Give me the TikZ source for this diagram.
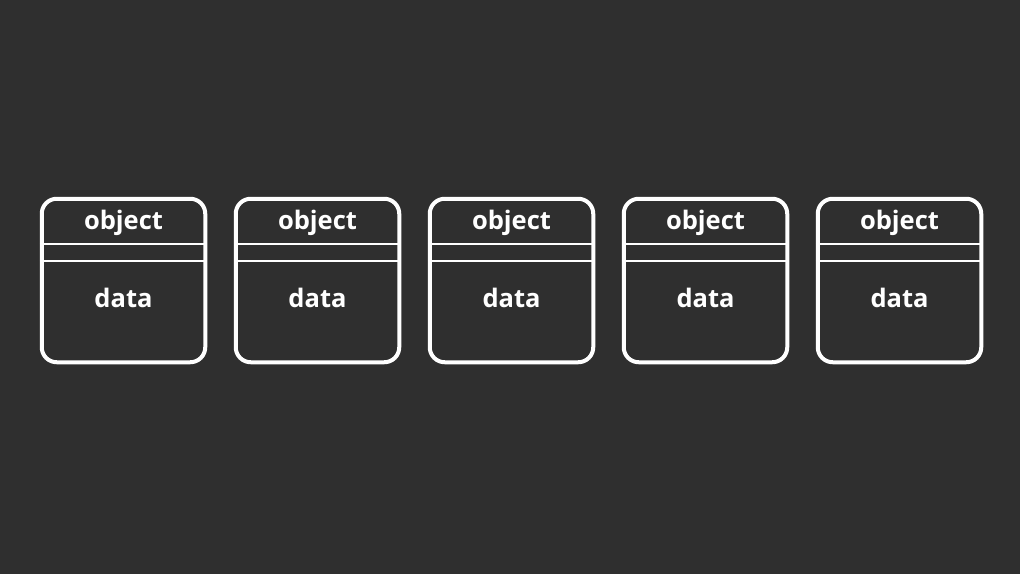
\documentclass[tikz,border=0pt]{standalone}
\usepackage{fontspec}
\setmainfont{Open Sans}
\usepackage{tikz}
\definecolor{bg}{HTML}{2F2F2F}

\begin{document}
\begin{tikzpicture}[x=1pt,y=-1pt,
    box/.style={draw=white,line width=4pt,rounded corners=15pt,minimum width=163.5pt,minimum height=163.5pt,inner sep=0pt},
    sep/.style={draw=white,line width=2pt},
    lbl/.style={text=white,anchor=base,font=\bfseries\fontsize{25.5}{30}\selectfont}]
    \fill[bg] (0,0) rectangle (1020,574);

    \node[box] (b1) at (123.5,280.5) {};
    \node[box] (b2) at (317.5,280.5) {};
    \node[box] (b3) at (511.5,280.5) {};
    \node[box] (b4) at (705.5,280.5) {};
    \node[box] (b5) at (899.5,280.5) {};

    \draw[sep] (b1.west |- 0,244)--(b1.east |- 0,244)  (b1.west |- 0,261)--(b1.east |- 0,261);
    \draw[sep] (b2.west |- 0,244)--(b2.east |- 0,244)  (b2.west |- 0,261)--(b2.east |- 0,261);
    \draw[sep] (b3.west |- 0,244)--(b3.east |- 0,244)  (b3.west |- 0,261)--(b3.east |- 0,261);
    \draw[sep] (b4.west |- 0,244)--(b4.east |- 0,244)  (b4.west |- 0,261)--(b4.east |- 0,261);
    \draw[sep] (b5.west |- 0,244)--(b5.east |- 0,244)  (b5.west |- 0,261)--(b5.east |- 0,261);

    \node[lbl] (o1) at (123.5,229.5) {object};
    \node[lbl] (o2) at (317.5,229.5) {object};
    \node[lbl] (o3) at (511.5,229.5) {object};
    \node[lbl] (o4) at (705.5,229.5) {object};
    \node[lbl] (o5) at (899.5,229.5) {object};

    \node[lbl] (d1) at (123.5,307) {data};
    \node[lbl] (d2) at (317.5,307) {data};
    \node[lbl] (d3) at (511.5,307) {data};
    \node[lbl] (d4) at (705.5,307) {data};
    \node[lbl] (d5) at (899.5,307) {data};
    \end{tikzpicture}
\end{document}
